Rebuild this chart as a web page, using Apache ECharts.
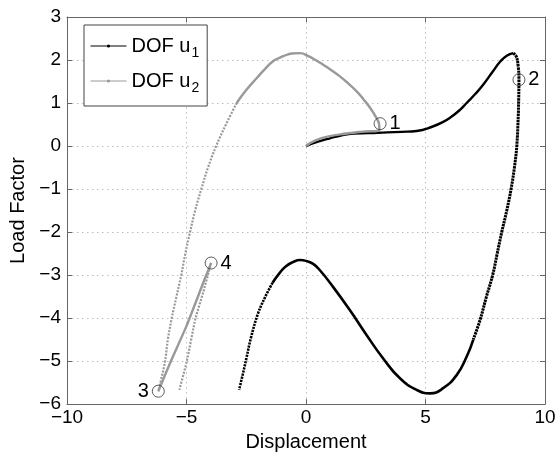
<!DOCTYPE html>
<html>
<head>
<meta charset="utf-8">
<script src="https://cdn.jsdelivr.net/npm/echarts@6/dist/echarts.min.js"></script>
<style>
html,body{margin:0;padding:0;background:#fff;}
#chart{width:559px;height:457px;}
</style>
</head>
<body>
<div id="chart"></div>
<script>
// ---- data ----
// DOF u1 (black), split where the marker density changes
var u1Start = [[0,0],[0.5,0.1],[1,0.18],[1.5,0.25],[2,0.29],[3,0.31],[4,0.33],[4.63,0.35],[5.33,0.46],[5.7,0.55],[6.03,0.66],[6.4,0.82],[6.72,1.0],[7.1,1.22],[7.42,1.43],[7.8,1.72],[8.12,1.96],[8.4,2.1],[8.67,2.16]];
var u1Drop = [[8.67,2.16],[8.8,2.08],[8.88,1.85],[8.91,1.54],[8.9,1.1],[8.88,0.69],[8.82,0.0],[8.72,-0.5],[8.58,-1.0],[8.4,-1.5],[8.19,-2.0],[8.0,-2.5],[7.81,-3.0],[7.55,-3.5],[7.28,-4.05],[7.0,-4.5]];
var u1Valley = [[7.0,-4.5],[6.72,-4.9],[6.31,-5.32],[5.74,-5.63],[5.19,-5.75],[4.63,-5.67],[3.93,-5.4],[3.23,-4.94],[2.54,-4.4],[1.84,-3.82],[1.14,-3.28],[0.6,-2.9],[0.3,-2.74],[0.0,-2.67],[-0.25,-2.65],[-0.55,-2.7],[-0.85,-2.8],[-1.1,-2.95],[-1.4,-3.18]];
var u1Tail = [[-1.4,-3.18],[-1.7,-3.5],[-2.0,-3.88],[-2.3,-4.45],[-2.5,-4.95],[-2.65,-5.32],[-2.8,-5.67]];
// DOF u2 (gray)
var u2Start = [[0,0],[0.4,0.13],[1.0,0.23],[1.7,0.29],[2.3,0.33],[3.07,0.37],[3.06,0.5],[2.95,0.65],[2.68,0.89],[2.4,1.09],[2.12,1.27],[1.8,1.44],[1.42,1.62],[1.05,1.77],[0.72,1.89],[0.4,2.0],[0.1,2.09],[-0.25,2.16],[-0.6,2.15],[-0.9,2.1],[-1.15,2.04],[-1.38,1.97],[-1.7,1.8],[-2.06,1.58],[-2.5,1.3],[-2.9,1.0]];
var u2Fall = [[-2.9,1.0],[-3.35,0.5],[-3.76,0.0],[-4.1,-0.5],[-4.38,-1.0],[-4.64,-1.5],[-4.85,-2.0],[-5.05,-2.5],[-5.22,-3.0],[-5.42,-3.5],[-5.62,-4.01],[-5.78,-4.5],[-5.9,-5.01],[-6.05,-5.4],[-6.18,-5.7]];
var u2Return = [[-6.18,-5.7],[-5.69,-5.05],[-4.99,-4.17],[-4.23,-3.08],[-3.97,-2.72]];
var u2Tail = [[-3.97,-2.72],[-4.3,-3.4],[-4.62,-4.0],[-4.99,-5.01],[-5.3,-5.67]];
// numbered points
var markX = [3.1, 8.91, -6.18, -3.97];
var markY = [0.52, 1.54, -5.7, -2.72];
var markLabel = ['1', '2', '3', '4'];
var markSide = ['right', 'right', 'left', 'right'];
var xTicks = [-10, -5, 0, 5, 10];
var yTicks = [-6, -5, -4, -3, -2, -1, 0, 1, 2, 3];

var FONT = 'Liberation Sans';
var chart = echarts.init(document.getElementById('chart'), null, {renderer: 'canvas'});
function fmt(v){ return v < 0 ? '\u2212' + Math.abs(v) : String(v); }

function seg(name, data, color, width, dash, smooth){
  return {
    name: name, type: 'line', data: data, xAxisIndex: 0, yAxisIndex: 0,
    symbol: 'circle', symbolSize: 3, showSymbol: false, smooth: smooth,
    lineStyle: {color: color, width: width, type: dash || 'solid', cap: 'butt'},
    itemStyle: {color: color},
    emphasis: {disabled: true}, silent: true, animation: false, z: 3
  };
}
var BLACK = '#000000', GRAY = '#999999';
var series = [
  seg('DOF u1', u1Start, BLACK, 2.4, null, 0.5),
  seg('DOF u1', u1Drop, BLACK, 3, [2.4, 0.7], 0.4),
  seg('DOF u1', u1Valley, BLACK, 2.6, null, 0.5),
  seg('DOF u1', u1Tail, BLACK, 2.6, [2.2, 1.0], 0.4),
  seg('DOF u2', u2Start, GRAY, 2.4, null, 0.5),
  seg('DOF u2', u2Fall, GRAY, 2.2, [2, 1.4], 0.4),
  seg('DOF u2', u2Return, GRAY, 2.4, null, 0.2),
  seg('DOF u2', u2Tail, GRAY, 2.2, [2, 1.4], 0.2),
  {
    type: 'scatter', silent: true, animation: false, z: 5,
    data: markX.map(function(x, i){
      return {value: [x, markY[i]], label: {position: markSide[i]}};
    }),
    symbol: 'circle', symbolSize: 12,
    itemStyle: {color: 'rgba(255,255,255,0)', borderColor: '#333', borderWidth: 0.8, opacity: 1},
    label: {show: true, formatter: function(p){ return markLabel[p.dataIndex]; },
      color: '#000', textBorderWidth: 0, fontFamily: FONT, fontSize: 20, distance: 3}
  }
];

var axisLine = {show: true, onZero: false, lineStyle: {color: '#666', width: 1}};
chart.setOption({
  backgroundColor: '#fff',
  animation: false,
  grid: {left: 67, right: 14, top: 17, bottom: 51, containLabel: false},
  legend: {
    show: true, orient: 'vertical', left: 84, top: 25,
    data: ['DOF u1', 'DOF u2'],
    backgroundColor: '#fff', borderColor: '#444', borderWidth: 1,
    padding: [11, 8, 11, 6], itemGap: 11,
    itemWidth: 36, itemHeight: 4,
    lineStyle: {width: 1},
    textStyle: {fontFamily: FONT, fontSize: 20, color: '#000',
      rich: {m: {fontFamily: FONT, fontSize: 20, color: '#000'},
             s: {fontFamily: FONT, fontSize: 14, color: '#000', padding: [14, 0, 0, 1]}}},
    formatter: function(n){ return '{m|DOF u}{s|' + n.slice(-1) + '}'; },
    selectedMode: false
  },
  xAxis: [{
    type: 'value', min: -10, max: 10, interval: 5, position: 'bottom',
    name: 'Displacement', nameLocation: 'middle', nameGap: 26,
    nameTextStyle: {fontFamily: FONT, fontSize: 20, color: '#000'},
    axisLine: axisLine,
    axisTick: {show: true, inside: true, length: 5, lineStyle: {color: '#666'}},
    axisLabel: {fontFamily: FONT, fontSize: 19, color: '#000', margin: 4,
      formatter: function(v){ return xTicks.indexOf(v) >= 0 ? fmt(v) : ''; }},
    splitLine: {show: true, lineStyle: {color: '#bdbdbd', type: [1.5, 3.5], width: 1}}
  }, {
    type: 'value', min: -10, max: 10, interval: 5, position: 'top',
    axisLine: axisLine,
    axisTick: {show: true, inside: true, length: 5, lineStyle: {color: '#666'}},
    axisLabel: {show: false}, splitLine: {show: false}
  }],
  yAxis: [{
    type: 'value', min: -6, max: 3, interval: 1, position: 'left',
    name: 'Load Factor', nameLocation: 'middle', nameGap: 33,
    nameTextStyle: {fontFamily: FONT, fontSize: 20, color: '#000'},
    axisLine: axisLine,
    axisTick: {show: true, inside: true, length: 5, lineStyle: {color: '#666'}},
    axisLabel: {fontFamily: FONT, fontSize: 19, color: '#000', margin: 6,
      formatter: function(v){ return yTicks.indexOf(v) >= 0 ? fmt(v) : ''; }},
    splitLine: {show: true, lineStyle: {color: '#bdbdbd', type: [1.5, 3.5], width: 1}}
  }, {
    type: 'value', min: -6, max: 3, interval: 1, position: 'right',
    axisLine: axisLine,
    axisTick: {show: true, inside: true, length: 5, lineStyle: {color: '#666'}},
    axisLabel: {show: false}, splitLine: {show: false}
  }],
  series: series
});
</script>
</body>
</html>
